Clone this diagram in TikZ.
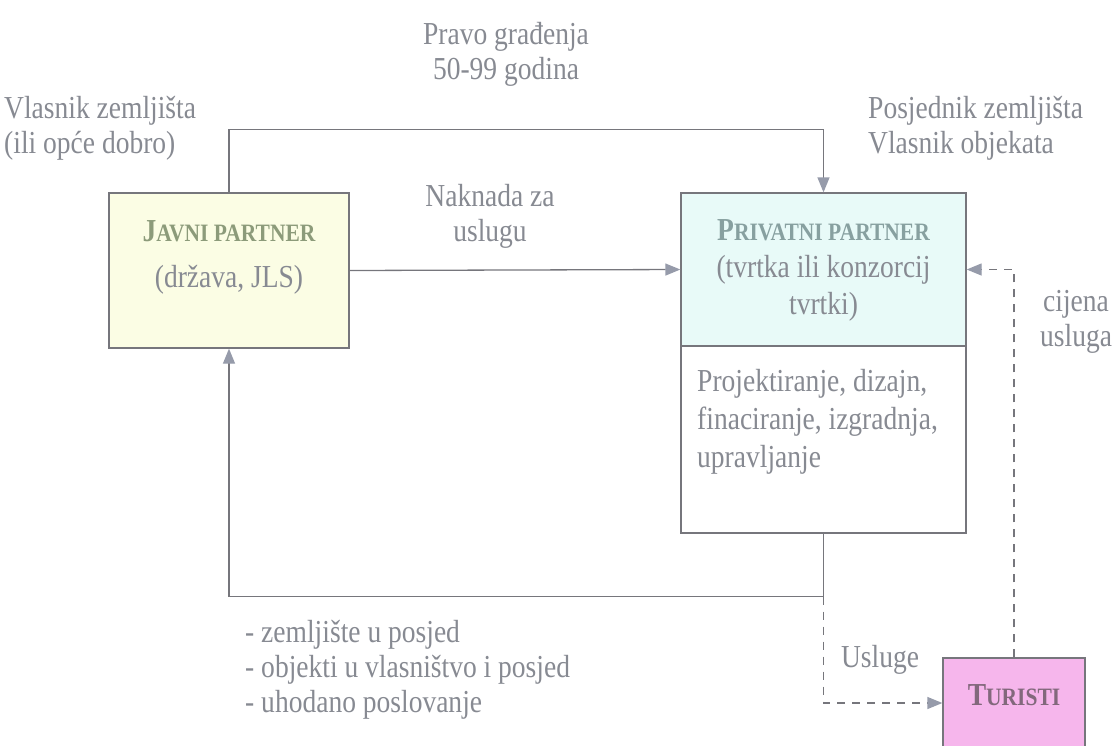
\documentclass[tikz,border=0pt]{standalone}
\usepackage{fontspec}
\setmainfont{Liberation Serif}[FakeStretch=0.86]
\usetikzlibrary{arrows.meta,positioning}

\definecolor{tekst}{RGB}{135,138,146}
\definecolor{linija}{RGB}{118,118,124}
\definecolor{vrh}{RGB}{150,155,170}
\definecolor{zuta}{RGB}{251,253,228}
\definecolor{plava}{RGB}{232,250,248}
\definecolor{roza}{RGB}{246,182,236}
\definecolor{javnaboja}{RGB}{140,155,122}
\definecolor{privatnaboja}{RGB}{135,160,160}
\definecolor{turistboja}{RGB}{130,104,124}

\newcommand\kapitalke[2]{#1{\fontsize{25}{25}\selectfont #2}}

\tikzset{
  okvir/.style={draw=linija, line width=1.3pt, inner sep=0pt},
  veza/.style={draw=linija, line width=1.3pt, -{Triangle[length=15pt,width=12pt,color=vrh]}},
  crtkano/.style={veza, dash pattern=on 8pt off 7pt},
  opis/.style={text=tekst, font=\fontsize{32}{35}\selectfont, inner sep=0pt, align=left},
  naslov/.style={opis, font=\fontsize{32}{35}\selectfont\bfseries, align=center}
}

\begin{document}
\begin{tikzpicture}[x=1pt,y=-1pt]
\useasboundingbox (0,0) rectangle (1113,745);

\node[okvir, fill=zuta, minimum width=240pt, minimum height=155pt] (javni) at (229,270.5) {};
\node[naslov, text=javnaboja] (javnitekst) at (229,257) {\kapitalke{J}{AVNI PARTNER}\\[11pt]{\mdseries\color{tekst}(država, JLS)}};
\node[okvir, fill=plava, minimum width=285pt, minimum height=153pt] (privatni) at (823.5,269.5) {};
\node[naslov, text=privatnaboja, font=\fontsize{32}{37}\selectfont\bfseries] (privatnitekst) at (823.5,270) {\kapitalke{P}{RIVATNI PARTNER}\\{\mdseries\color{tekst}(tvrtka ili konzorcij}\\{\mdseries\color{tekst}tvrtki)}};
\node[okvir, fill=white, minimum width=285pt, minimum height=187pt] (privatnidole) at (823.5,439.5) {};
\node[opis, font=\fontsize{32}{38}\selectfont, anchor=north west] (poslovi) at (697,369) {Projektiranje, dizajn,\\finaciranje, izgradnja,\\upravljanje};
\node[okvir, fill=roza, minimum width=142pt, minimum height=90pt] (turisti) at (1014,703) {};
\node[naslov, text=turistboja] (turistitekst) at (1014,695) {\kapitalke{T}{URISTI}};

\foreach \x/\y/\n/\t in {506/54/pravo/{Pravo građenja\\50-99 godina},
  490/216/naknada/{Naknada za\\uslugu},
  880/660/usluge/{Usluge}}
  \node[opis, align=center] (\n) at (\x,\y) {\t};
\foreach \x/\y/\n/\t in {4/128/vlasnik/{Vlasnik zemljišta\\(ili opće dobro)},
  868/128/posjednik/{Posjednik zemljišta\\Vlasnik objekata},
  1040/322/cijena/{\hspace*{3pt}cijena\\usluga},
  245/670/predaja/{- zemljište u posjed\\- objekti u vlasništvo i posjed\\- uhodano poslovanje}}
  \node[opis, anchor=west] (\n) at (\x,\y) {\t};

\draw[veza] (javni.north) -- ++(0,-63) -| (privatni.north);
\draw[veza] (javni.east) -- (privatni.west);
\draw[veza] (privatnidole.south) -- ++(0,63) coordinate (ugao) -| (javni.south);
\draw[crtkano] (ugao) |- (turisti.west);
\draw[crtkano] (turisti.north) |- (privatni.east);

\end{tikzpicture}
\end{document}
